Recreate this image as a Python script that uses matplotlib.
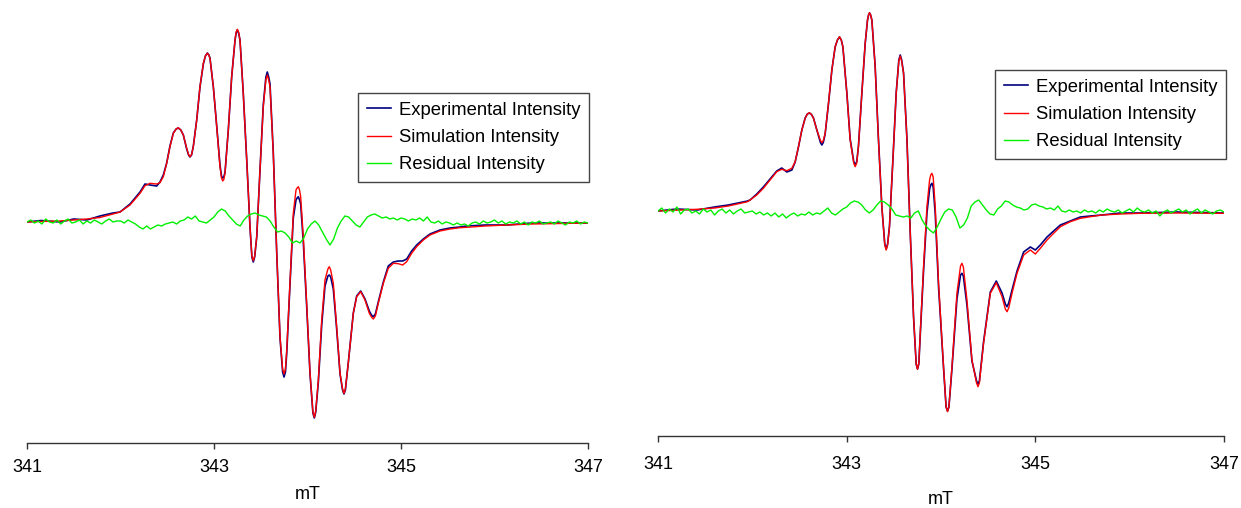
import numpy as np
import matplotlib
matplotlib.use("Agg")
import matplotlib.pyplot as plt

plt.rcParams['font.family'] = ['Liberation Sans', 'DejaVu Sans']

# ---------------- data (field in mT, intensity in arbitrary units) ----------------
field_ticks = [341, 343, 345, 347]
x_label = "mT"
legend_labels = ["Experimental Intensity", "Simulation Intensity", "Residual Intensity"]

# Left spectrum
left_field = [341.000, 341.150, 341.353, 341.500, 341.640, 341.780, 341.920, 341.995, 342.102, 342.209,
              342.262, 342.316, 342.387, 342.422, 342.458, 342.494, 342.529, 342.565, 342.618, 342.672,
              342.708, 342.743, 342.779, 342.815, 342.850, 342.886, 342.929, 342.957, 342.993, 343.029,
              343.064, 343.093, 343.118, 343.153, 343.189, 343.225, 343.249, 343.278, 343.313, 343.350,
              343.385, 343.420, 343.457, 343.492, 343.527, 343.570, 343.599, 343.634, 343.671, 343.706,
              343.749, 343.778, 343.813, 343.848, 343.877, 343.902, 343.927, 343.955, 343.991, 344.027,
              344.073, 344.116, 344.152, 344.187, 344.233, 344.276, 344.312, 344.348, 344.390, 344.436,
              344.490, 344.526, 344.569, 344.615, 344.661, 344.704, 344.757, 344.811, 344.864, 344.918,
              344.971, 345.018, 345.061, 345.114, 345.168, 345.239, 345.310, 345.417, 345.524, 345.631,
              345.703, 345.900, 346.130, 346.400, 346.700, 347.000]
left_sim = [0, 0.5, 1, 2, 3, 4.5, 8, 10, 17, 28.7,
            36.3, 38.7, 38, 39.3, 45.3, 58.7, 75.3, 88.7, 94.3, 87,
            73.7, 65.3, 75.3, 102, 135.3, 158.7, 168.7, 163.7, 135.3, 95.3,
            55.3, 41, 48.7, 92, 145.3, 182, 192.7, 182, 128.7, 62,
            -4.7, -38.7, -14.7, 52, 115.3, 147, 135.3, 68.7, -31.3, -114.7,
            -152, -128, -60, 8.7, 32, 35.3, 25.3, -14.7, -81.3, -151.3,
            -195.3, -158, -98, -58, -44.7, -61.3, -104.7, -151.3, -171.3, -141.3,
            -91.3, -74.7, -69.7, -78, -91.3, -97, -81.3, -61.3, -46.3, -41.3,
            -41.7, -43, -39.7, -31.3, -24.7, -18, -13, -9, -7, -5.7,
            -5.3, -4, -3, -2, -1.5, -1]
left_exp = [0, 1.5, 0, 3, 2, 6, 9, 10, 18, 30,
            38, 37, 36, 40, 47, 59, 76, 89, 94, 87,
            73, 65, 76, 102, 135, 158, 169, 164, 135, 96,
            57, 44, 50, 92, 145, 182, 192, 182, 129, 62,
            -5, -40, -15, 52, 117, 150, 138, 70, -31, -116,
            -155, -131, -62, 4, 22, 25.3, 18, -20, -84, -152,
            -196, -160, -103, -64, -53, -67, -107, -152, -172, -141,
            -91, -74, -69, -77, -89, -94.7, -80, -60, -44, -40,
            -39, -39, -37, -29, -23, -17, -12, -8, -6, -5,
            -4, -3, -3, -1, -1, -1]
# extra readings around the peak tips
left_tip_field = [342.595, 342.645, 342.728, 342.760, 342.908, 342.945, 343.080, 343.105, 343.237, 343.263,
                  343.405, 343.435, 343.555, 343.585, 343.734, 343.764, 343.889, 343.915, 344.058, 344.088,
                  344.218, 344.248, 344.375, 344.405, 344.684, 344.726]
left_tip_sim = [93, 92, 67.5, 67.5, 166, 167, 44, 42.5, 190, 190,
                -34, -34, 142, 142, -147, -147, 34, 32, -190, -189,
                -47, -48, -167, -167, -95, -94]
left_tip_exp = [93, 92, 67, 67, 166, 167, 46, 45, 189, 189,
                -35, -35, 145, 145, -150, -150, 24, 22, -191, -190,
                -54, -55, -168, -168, -93, -92]
left_resid = [0, 2, -1, 1, -2, 3, 0, -1, 2, -2,
              1, 3, -1, 0, 2, -2, 1, -1, 2, 0,
              -2, 1, 3, 0, 1, 1, -1, 2, 0, -2,
              -5, -7, -4, -7, -5, -3, -4, -2, -1, 0,
              -2, 1, 2, 5, 3, 6, 1, 0, -1, 2,
              5, 10, 13, 11, 6, 2, -2, -4, 2, 6,
              8, 9, 7, 6, 5, 1, -5, -10, -9, -11,
              -15, -21, -19, -21, -16, -7, -2, 1, -3, -10,
              -17, -23, -17, -6, 1, 6, 5, 1, -3, -5,
              0, 5, 7, 8, 6, 4, 5, 3, 4, 2,
              4, 3, 1, 3, 2, 4, 1, 5, 0, -1,
              1, -2, 0, -1, -3, -1, -3, -2, -4, -1,
              0, -2, 1, -1, 0, 2, -1, 1, -2, 0,
              -1, 1, -2, 0, -3, 0, -1, 1, -2, -1,
              0, -2, 1, -1, -3, 0, -1, 1, -2, 0, -1]

# Right spectrum
right_field = [341.000, 341.200, 341.416, 341.600, 341.746, 341.950, 341.976, 342.047, 342.117, 342.188,
               342.259, 342.312, 342.366, 342.419, 342.454, 342.489, 342.525, 342.560, 342.605, 342.648,
               342.684, 342.737, 342.772, 342.807, 342.843, 342.878, 342.924, 342.960, 343.002, 343.037,
               343.090, 343.125, 343.161, 343.196, 343.221, 343.242, 343.267, 343.302, 343.337, 343.373,
               343.419, 343.454, 343.490, 343.525, 343.568, 343.603, 343.639, 343.674, 343.709, 343.751,
               343.780, 343.815, 343.851, 343.879, 343.904, 343.939, 343.974, 344.027, 344.069, 344.116,
               344.169, 344.222, 344.275, 344.328, 344.392, 344.451, 344.523, 344.586, 344.647, 344.700,
               344.753, 344.806, 344.876, 344.947, 345.000, 345.053, 345.124, 345.194, 345.265, 345.371,
               345.477, 345.584, 345.705, 345.900, 346.110, 346.500, 347.000]
right_sim = [0, 0.8, 1.7, 3, 5, 9.3, 11, 16, 22.7, 31,
             39.3, 41.7, 40.3, 42.7, 49.3, 64.3, 81, 92.7, 98.3, 92.7,
             81, 68.3, 77.7, 107.7, 141, 164.3, 174.3, 164.3, 117.7, 71,
             44.3, 64.3, 117.7, 167.7, 191, 198.3, 191, 144.3, 71, 4.3,
             -39, -15.7, 51, 117.7, 155, 137.7, 71, -22.3, -105.7, -158.3,
             -122.3, -55.7, 4.3, 31, 37.7, 4.3, -72.3, -155.7, -200.7, -155.7,
             -82.3, -52.3, -89, -149, -175.7, -132.3, -82.3, -71.7, -85.7, -100.7,
             -82.3, -62.3, -44, -39, -43, -37.3, -29, -22.3, -15.7, -10.7,
             -7.3, -5.7, -4, -3, -2.3, -2, -2.3]
right_exp = [0, 2, 1, 4, 6, 10, 11, 17, 24, 32,
             40, 43, 39, 41, 49, 64, 81, 93, 98, 93,
             81, 66, 77, 107, 141, 164, 174, 164, 118, 72,
             46, 65, 118, 167, 191, 198, 191, 145, 72, 4,
             -38, -15, 51, 118, 156, 138, 72, -22, -106, -158,
             -124, -60, -2, 22, 27.7, -3, -76, -157, -200, -158,
             -88, -62.3, -94, -150, -173, -131, -81, -70, -82, -95.7,
             -79, -60, -41, -36, -39, -34, -26, -20, -14, -10,
             -6, -5, -4, -2, -2, -1, -2]
right_tip_field = [342.583, 342.627, 342.722, 342.752, 342.902, 342.943, 343.075, 343.107, 343.232, 343.254,
                   343.404, 343.434, 343.553, 343.583, 343.737, 343.765, 343.891, 343.917, 344.054, 344.084,
                   344.207, 344.237, 344.377, 344.407, 344.682, 344.718]
right_tip_sim = [97, 96.5, 70.5, 70.5, 171, 171, 48, 48, 196, 196,
                 -34, -34, 150, 150, -153, -152, 36, 34, -196, -196,
                 -55, -56, -172, -172, -98, -97]
right_tip_exp = [97, 96.5, 68.5, 68.5, 171, 171, 49.5, 49.5, 196, 196,
                 -33, -33, 151, 151, -153, -153, 26, 24, -196, -196,
                 -64, -65, -170, -170, -93, -92]
right_resid = [0, 3, -2, 2, -1, 4, -3, 1, 2, -2,
               0, -3, 2, -1, 1, -4, 0, 2, -2, 1,
               -3, 0, 2, -2, -1, 0, -3, -1, -4, -2,
               -5, -2, -6, -3, -7, -4, -2, -5, -3, -4,
               -1, -4, -2, -3, 0, 3, -2, -4, -1, 2,
               4, 8, 10, 9, 6, 1, -2, 1, 6, 10,
               9, 6, 2, -4, -5, -6, -5, -7, -2, 0,
               -9, -15, -19, -22, -16, -8, -1, 2, 1, -6,
               -17, -14, -7, 5, 9, 11, 6, 1, -3, -4,
               2, 5, 10, 9, 6, 4, 3, 1, 2, 6,
               7, 5, 4, 2, 3, 1, 5, 0, -1, 1,
               -1, 0, -2, 1, -1, 0, -2, 1, -1, 2,
               0, -1, 1, -2, 0, 2, -1, 3, 0, -1,
               1, -2, 0, -5, -1, 1, -2, 0, 2, -1,
               1, -3, 0, 2, -2, 1, -1, -3, 0, 1, -1]

colors = ["#000080", "#FF0000", "#00F000"]

# ---------------- figure ----------------
W, H = 1241, 508
fig = plt.figure(figsize=(W / 100, H / 100), dpi=100)


def px_axes(x0, x1, ytop, ybot):
    return fig.add_axes([x0 / W, 1 - ybot / H, (x1 - x0) / W, (ybot - ytop) / H])


def merged(field, vals, tip_field, tip_vals):
    f = np.concatenate([field, tip_field])
    v = np.concatenate([vals, tip_vals])
    order = np.argsort(f)
    return f[order], v[order]


panels = [
    dict(rect=(27, 588, 10, 443), ylim=(-221, 212),
         field=left_field, sim=left_sim, exp=left_exp,
         tfield=left_tip_field, tsim=left_tip_sim, texp=left_tip_exp,
         resid=left_resid, leg=(589, 93), tickpad=7, labelpad=7.5),
    dict(rect=(658, 1224, 5, 436), ylim=(-225, 206),
         field=right_field, sim=right_sim, exp=right_exp,
         tfield=right_tip_field, tsim=right_tip_sim, texp=right_tip_exp,
         resid=right_resid, leg=(1226, 70), tickpad=10, labelpad=12.5),
]

for p in panels:
    ax = px_axes(*p["rect"])
    fx, ex = merged(p["field"], p["exp"], p["tfield"], p["texp"])
    fs, sm = merged(p["field"], p["sim"], p["tfield"], p["tsim"])
    resid_field = np.linspace(341, 347, len(p["resid"]))
    ax.plot(fx, ex, color=colors[0], lw=1.2, label=legend_labels[0], solid_joinstyle="round")
    ax.plot(fs, sm, color=colors[1], lw=1.0, label=legend_labels[1], solid_joinstyle="round")
    ax.plot(resid_field, p["resid"], color=colors[2], lw=1.0, label=legend_labels[2])
    ax.set_xlim(341, 347)
    ax.set_ylim(*p["ylim"])
    ax.set_xticks(field_ticks)
    ax.set_xticklabels([str(t) for t in field_ticks])
    ax.set_yticks([])
    for s in ["left", "right", "top"]:
        ax.spines[s].set_visible(False)
    ax.spines["bottom"].set_color("#333333")
    ax.spines["bottom"].set_linewidth(1.0)
    ax.tick_params(axis="x", direction="out", length=4.5, width=1.0, color="#333333",
                   labelsize=13, pad=p["tickpad"])
    ax.set_xlabel(x_label, fontsize=13, labelpad=p["labelpad"])
    ax.patch.set_alpha(0)
    lx, ly = p["leg"]
    leg = ax.legend(loc="upper right", bbox_to_anchor=(lx / W, 1 - ly / H),
                    bbox_transform=fig.transFigure, fontsize=13.3, frameon=True, fancybox=False,
                    edgecolor="#444444", framealpha=1, handlelength=1.3, handletextpad=0.4,
                    labelspacing=0.55, borderpad=0.48, borderaxespad=0)
    leg.get_frame().set_linewidth(1.0)

fig.savefig("out.png", dpi=100)
